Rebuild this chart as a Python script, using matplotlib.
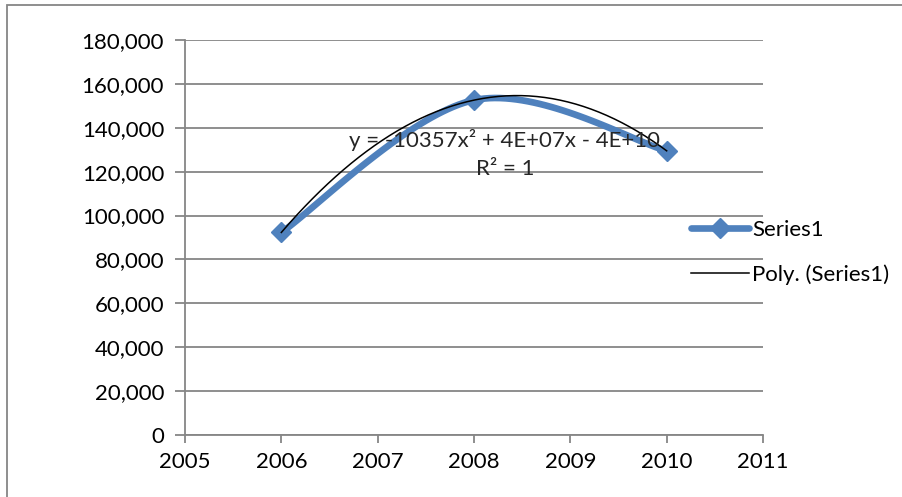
import numpy as np
import matplotlib.pyplot as plt
from matplotlib.patches import Rectangle

years = [2006, 2008, 2010]
values = [92300, 152600, 129500]
y_ticks = [0, 20000, 40000, 60000, 80000, 100000, 120000, 140000, 160000, 180000]
x_ticks = [2005, 2006, 2007, 2008, 2009, 2010, 2011]
equation = "y = -10357x² + 4E+07x - 4E+10\nR² = 1"

plt.rcParams['font.family'] = ['Lato', 'DejaVu Sans']


def smooth(xs, ys, n=40):
    # Bezier smoothing similar to the spreadsheet "smoothed line" option
    p = np.column_stack([xs, ys]).astype(float)
    p_ext = np.vstack([p[0], p, p[-1]])
    out = []
    for i in range(len(p) - 1):
        p0, p1, p2, p3 = p_ext[i], p_ext[i + 1], p_ext[i + 2], p_ext[i + 3]
        c1 = p1 + (p2 - p0) / 6
        c2 = p2 - (p3 - p1) / 6
        t = np.linspace(0, 1, n)[:, None]
        seg = ((1 - t) ** 3 * p1 + 3 * (1 - t) ** 2 * t * c1
               + 3 * (1 - t) * t ** 2 * c2 + t ** 3 * p2)
        out.append(seg)
    out = np.vstack(out)
    return out[:, 0], out[:, 1]


fig = plt.figure(figsize=(9.02, 4.97), dpi=100)
ax = fig.add_axes([185 / 902, 62 / 497, 578 / 902, 395 / 497])

grey = '#868686'
blue = '#4F81BD'

sx, sy = smooth(years, values)
ax.plot(sx, sy, color=blue, lw=4.8, solid_capstyle='round', zorder=3)
ax.plot(years, values, linestyle='none', marker='D', ms=10.5, color=blue, zorder=4)

xs = np.array(years, dtype=float)
coef = np.polyfit(xs - 2008, values, 2)
tx = np.linspace(xs[0], xs[-1], 200)
ax.plot(tx, np.polyval(coef, tx - 2008), color='black', lw=1.1, zorder=5)

ax.text(2008.32, 128000, equation, ha='center', va='center', fontsize=16,
        color='#262626', linespacing=1.5, zorder=6)

ax.set_xlim(2005, 2011)
ax.set_ylim(0, 180000)
ax.set_xticks(x_ticks)
ax.set_yticks(y_ticks)
ax.set_yticklabels([f'{v:,}' for v in y_ticks])
ax.tick_params(axis='both', labelsize=16, colors=grey, labelcolor='black', width=1.3)
ax.tick_params(axis='y', length=7, pad=8)
ax.tick_params(axis='x', length=6, pad=6)
ax.grid(axis='y', color=grey, lw=1.3)
ax.set_axisbelow(True)
for s in ['top', 'right']:
    ax.spines[s].set_visible(False)
for s in ['left', 'bottom']:
    ax.spines[s].set_color(grey)
    ax.spines[s].set_linewidth(1.3)

h1, = ax.plot([], [], color=blue, lw=4.8, marker='D', ms=10.5, solid_capstyle='round')
h2, = ax.plot([], [], color='black', lw=1.1)
fig.legend([h1, h2], ['Series1', 'Poly. (Series1)'], loc='upper left',
           bbox_to_anchor=(680 / 902, 1 - 209 / 497), frameon=False, fontsize=16,
           handlelength=2.6, handletextpad=0.15, labelspacing=1.1, borderpad=0)

fig.patches.append(Rectangle((7 / 902, -0.05), 1.2, 1 - 5 / 497 + 0.05,
                             transform=fig.transFigure, fill=False,
                             edgecolor=grey, lw=1.3))

fig.savefig('out.png', dpi=100)
